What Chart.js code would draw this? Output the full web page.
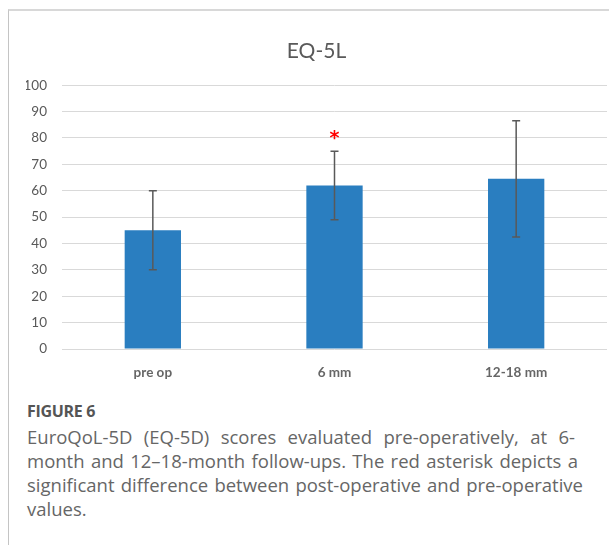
<!DOCTYPE html>
<html>
<head>
<meta charset="utf-8">
<script src="https://cdn.jsdelivr.net/npm/chart.js@4.4.1/dist/chart.umd.min.js"></script>
<style>
  html, body { margin: 0; padding: 0; background: #fff; width: 609px; height: 545px; overflow: hidden; }
  .frame { position: absolute; left: 8px; top: 9px; width: 610px; height: 545px;
           border-left: 1px solid #c4c4c4; border-top: 2px solid #d8d8d8; }
  .chart-box { position: absolute; left: 26px; top: 11px; width: 598px; height: 380px; }
  .caption { position: absolute; left: 27px; top: 400px; width: 580px; white-space: nowrap;
             font-family: "Open Sans", "Noto Sans", sans-serif; color: #666; }
  .caption .fig { font-weight: 700; font-size: 16px; letter-spacing: -0.3px; color: #555; line-height: 22px; }
  .caption .txt { font-size: 18.5px; line-height: 24px; margin-top: 3px; }
  .caption .ln { text-align: justify; text-align-last: justify; }
  .caption .last { text-align: left; }
</style>
</head>
<body>
<div class="frame"></div>
<div class="chart-box"><canvas id="c" width="598" height="380"></canvas></div>
<div class="caption">
  <div class="fig">FIGURE 6</div>
  <div class="txt">
    <div class="ln" style="width:548px">EuroQoL-5D (EQ-5D) scores evaluated pre-operatively, at 6-</div>
    <div class="ln" style="width:551px">month and 12–18-month follow-ups. The red asterisk depicts a</div>
    <div class="ln" style="width:556px">significant difference between post-operative and pre-operative</div>
    <div class="last">values.</div>
  </div>
</div>
<script>
// EQ-5L scores by follow-up time point
const categories = ['pre op', '6 mm', '12-18 mm'];
const meanScores = [45, 62, 64.5];
const sdScores = [15, 13, 22];
// significance marker heights (null = no marker)
const asteriskAt = [null, 82, null];
const yTicks = { min: 0, max: 100, step: 10 };

const errorBars = {
  id: 'errorBars',
  afterDatasetsDraw(chart) {
    const { ctx, scales: { x, y } } = chart;
    ctx.save();
    ctx.strokeStyle = '#595959';
    ctx.lineWidth = 1.5;
    meanScores.forEach((m, i) => {
      const cx = x.getPixelForValue(i);
      const yTop = y.getPixelForValue(m + sdScores[i]);
      const yBot = y.getPixelForValue(m - sdScores[i]);
      ctx.beginPath();
      ctx.moveTo(cx, yTop); ctx.lineTo(cx, yBot);
      ctx.moveTo(cx - 4, yTop); ctx.lineTo(cx + 4, yTop);
      ctx.moveTo(cx - 4, yBot); ctx.lineTo(cx + 4, yBot);
      ctx.stroke();
    });
    ctx.fillStyle = '#ff0000';
    ctx.font = 'bold 19px "DejaVu Sans", sans-serif';
    ctx.textAlign = 'center';
    ctx.textBaseline = 'middle';
    asteriskAt.forEach((v, i) => {
      if (v == null) return;
      ctx.fillText('*', x.getPixelForValue(i), y.getPixelForValue(v) + 6);
    });
    ctx.restore();
  }
};

new Chart(document.getElementById('c'), {
  type: 'bar',
  data: {
    labels: categories,
    datasets: [{
      data: meanScores,
      backgroundColor: '#2a7ec0',
      barPercentage: 0.31,
      categoryPercentage: 1
    }]
  },
  options: {
    responsive: false,
    animation: false,
    layout: { padding: { left: 0, right: 17, top: 0, bottom: 0 } },
    plugins: {
      legend: { display: false },
      tooltip: { enabled: false },
      title: {
        display: true,
        text: 'EQ-5L',
        color: '#595959',
        font: { family: 'Lato, "Open Sans", sans-serif', size: 21, weight: 'normal' },
        padding: { top: 28, bottom: 21 }
      }
    },
    scales: {
      x: {
        grid: { display: false, drawTicks: false },
        border: { display: false },
        ticks: { color: '#666', padding: 16, font: { family: 'Lato, sans-serif', size: 13.5, weight: 'bold' } },
        afterFit(s) { s.height = 42; }
      },
      y: {
        min: yTicks.min, max: yTicks.max,
        grid: { color: '#d9d9d9', lineWidth: 1, drawTicks: false },
        border: { display: false },
        ticks: { stepSize: yTicks.step, color: '#595959', padding: 15, font: { family: 'Lato, sans-serif', size: 13.5 } },
        afterFit(s) { s.width = 36; }
      }
    }
  },
  plugins: [errorBars]
});
</script>
</body>
</html>
